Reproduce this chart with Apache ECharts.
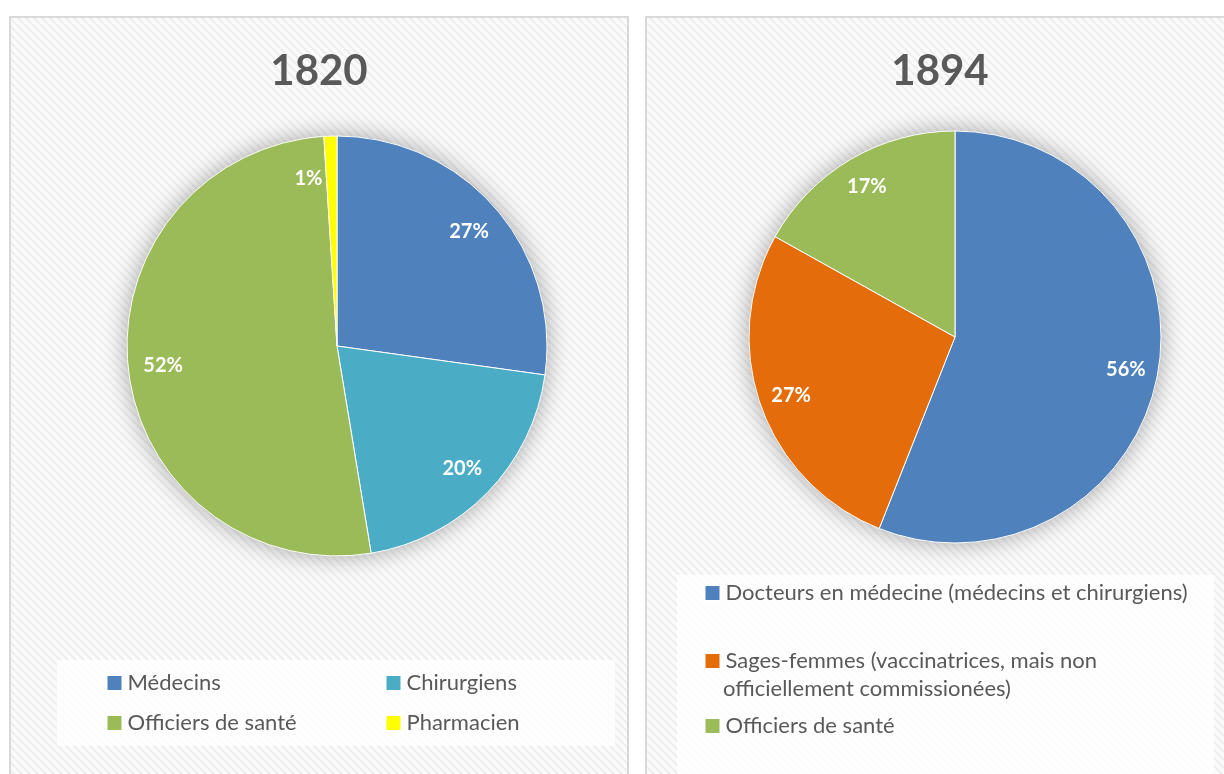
<!DOCTYPE html>
<html>
<head>
<meta charset="utf-8">
<script src="https://cdn.jsdelivr.net/npm/echarts@6/dist/echarts.min.js"></script>
<style>
  html, body { margin: 0; padding: 0; background: #fff; }
  #main { width: 1224px; height: 774px; }
</style>
</head>
<body>
<div id="main"></div>
<script>
  // données
  const titles = ['1820', '1894']
  const names1820 = ['Médecins', 'Chirurgiens', 'Officiers de santé', 'Pharmacien']
  const values1820 = [27.2, 20.2, 51.6, 1.0]
  const colors1820 = ['#4F81BD', '#4BACC6', '#9BBB59', '#FFFF00']
  const names1894 = ['Docteurs en médecine (médecins et chirurgiens)', 'Sages-femmes (vaccinatrices, mais non officiellement commissionées)', 'Officiers de santé']
  const values1894 = [56.0, 27.1, 16.9]
  const colors1894 = ['#4F81BD', '#E46C0A', '#9BBB59']

  const FONT = 'Lato, "Open Sans", sans-serif'
  const GREY = '#595959'

  // motif hachuré du fond
  const pat = document.createElement('canvas')
  pat.width = 8
  pat.height = 8
  const ctx = pat.getContext('2d')
  ctx.fillStyle = '#fbfbfb'
  ctx.fillRect(0, 0, 8, 8)
  ctx.strokeStyle = '#efefef'
  ctx.lineWidth = 2.5
  for (let k = -8; k <= 8; k += 8) {
    ctx.beginPath()
    ctx.moveTo(k, 0)
    ctx.lineTo(k + 8, 8)
    ctx.stroke()
  }
  const hatch = { image: pat, repeat: 'repeat' }

  function toData(names, values, colors) {
    return names.map((n, i) => ({ name: n, value: values[i], itemStyle: { color: colors[i] } }))
  }

  function pieSeries(names, values, colors, center, r, r0) {
    const total = values.reduce((a, b) => a + b, 0)
    return [
      {
        type: 'pie', center: center, radius: r, startAngle: 90, z: 2,
        data: toData(names, values, colors),
        itemStyle: { borderColor: '#fff', borderWidth: 1 },
        label: { show: false }, labelLine: { show: false }
      },
      { // ombre
        type: 'pie', center: center, radius: r, startAngle: 90, z: 1, silent: true,
        data: toData(names, values, colors),
        itemStyle: { shadowBlur: 24, shadowColor: 'rgba(0,0,0,0.35)' },
        label: { show: false }, labelLine: { show: false }
      },
      { // étiquettes (les très petites parts sont décalées à gauche, comme dans Excel)
        type: 'pie', center: center, radius: [r0, r], startAngle: 90, z: 3, silent: true,
        data: names.map((n, i) => {
          const d = { name: n, value: values[i] }
          if (values[i] / total < 0.02) d.label = { offset: [-23, 7] }
          return d
        }),
        itemStyle: { color: 'rgba(0,0,0,0)' },
        label: {
          show: true, position: 'inside', color: '#fff', fontWeight: 'bold',
          fontSize: 20, fontFamily: FONT,
          formatter: p => Math.round(p.percent) + '%'
        },
        labelLine: { show: false }
      }
    ]
  }

  const legendText = { fontSize: 22, color: GREY, fontFamily: FONT, lineHeight: 26 }
  function legend(data, left, top, extra) {
    return Object.assign({
      orient: 'vertical', left: left, top: top, padding: 0,
      itemWidth: 16, itemHeight: 16, itemGap: 14, icon: 'rect',
      selectedMode: false, data: data, textStyle: legendText
    }, extra || {})
  }

  const myChart = echarts.init(document.getElementById('main'))
  const option = {
    animation: false,
    graphic: [
      { type: 'rect', z: 0, shape: { x: 10, y: 17, width: 618, height: 780 },
        style: { fill: hatch, stroke: '#d9d9d9', lineWidth: 2 } },
      { type: 'rect', z: 0, shape: { x: 646, y: 17, width: 600, height: 780 },
        style: { fill: hatch, stroke: '#d9d9d9', lineWidth: 2 } },
      { type: 'rect', z: 0, shape: { x: 57, y: 660, width: 558, height: 86 },
        style: { fill: 'rgba(255,255,255,0.8)' } },
      { type: 'rect', z: 0, shape: { x: 677, y: 575, width: 537, height: 210 },
        style: { fill: 'rgba(255,255,255,0.8)' } },
      // suite de la légende « Sages-femmes »
      { type: 'text', z: 5, left: 723, top: 689 - 13,
        style: { text: 'officiellement commissionées)', fill: GREY, font: '22px ' + FONT, lineHeight: 26 } }
    ],
    title: [
      { text: titles[0], left: 319, top: 50, padding: 0, textAlign: 'center',
        textStyle: { fontSize: 42, fontWeight: 'bold', color: GREY, fontFamily: FONT } },
      { text: titles[1], left: 940, top: 50, padding: 0, textAlign: 'center',
        textStyle: { fontSize: 42, fontWeight: 'bold', color: GREY, fontFamily: FONT } }
    ],
    legend: [
      legend([names1820[0], names1820[2]], 105.5, 670),
      legend([names1820[1], names1820[3]], 384.5, 670),
      legend([names1894[0]], 703.5, 580),
      legend([names1894[1]], 703.5, 648, {
        formatter: n => n.replace(' officiellement commissionées)', '')
      }),
      legend([names1894[2]], 703.5, 713)
    ],
    series: [].concat(
      pieSeries(names1820, values1820, colors1820, [337, 346], 210, 134),
      pieSeries(names1894, values1894, colors1894, [955, 337], 206, 136)
    )
  }
  myChart.setOption(option)
</script>
</body>
</html>
